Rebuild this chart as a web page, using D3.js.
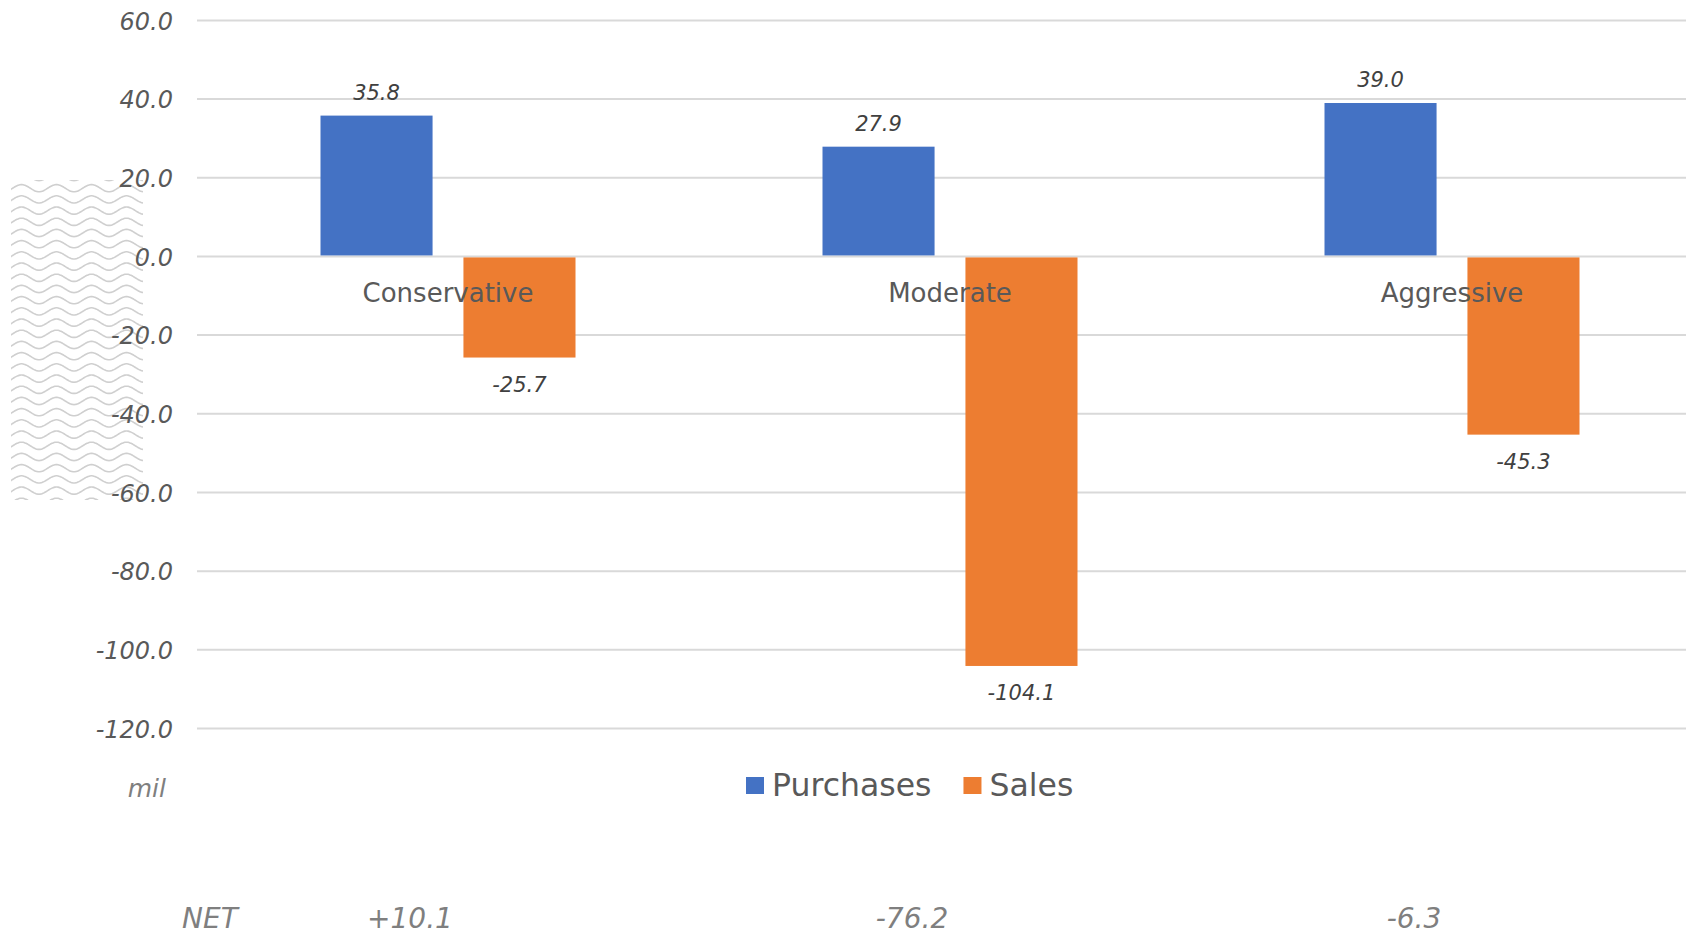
<!DOCTYPE html>
<html>
<head>
<meta charset="utf-8">
<script src="https://cdn.jsdelivr.net/npm/d3@7"></script>
<style>
  html, body { margin: 0; padding: 0; background: #fff; }
  svg { display: block; }
</style>
</head>
<body>
<svg id="chart" width="1686" height="935"></svg>
<script>
const categories = ["Conservative", "Moderate", "Aggressive"];
const seriesNames = ["Purchases", "Sales"];
const purchases = [35.8, 27.9, 39.0];
const sales = [-25.7, -104.1, -45.3];
const netLabels = ["+10.1", "-76.2", "-6.3"];
const yTicks = [60, 40, 20, 0, -20, -40, -60, -80, -100, -120];
const colors = ["#4472C4", "#ED7D31"];

const svg = d3.select("#chart");
const W = 1686, H = 935;
const plotLeft = 197, plotRight = 1703;
const FONT = "'DejaVu Sans', Verdana, sans-serif";

const y = d3.scaleLinear().domain([-120, 60]).range([728.5, 20.4]);
const x0 = d3.scaleBand().domain(categories).range([plotLeft, plotRight]).paddingInner(0).paddingOuter(0);
const x1 = d3.scaleBand().domain(seriesNames).range([123.5, 378.5]).paddingInner(31 / 143.5).paddingOuter(0);

// decorative wave pattern on the left
const defs = svg.append("defs");
defs.append("clipPath").attr("id", "waveClip")
  .append("rect").attr("x", 11).attr("y", 180).attr("width", 132).attr("height", 320);
const waveG = svg.append("g").attr("clip-path", "url(#waveClip)");
const waveLine = d3.line().curve(d3.curveMonotoneX);
const period = 35, amp = 3.6;
for (let r = 0; r < 31; r++) {
  const base = 177 + r * 11.2;
  const pts = d3.range(0, 170, 1).map(px => [px + 4, base + amp * Math.cos((px / period) * 2 * Math.PI)]);
  waveG.append("path").attr("d", waveLine(pts))
    .attr("fill", "none").attr("stroke", "#cfcfcf").attr("stroke-width", 1.6);
}

// y axis labels
const yAxis = d3.axisLeft(y).tickValues(yTicks).tickSize(0).tickPadding(0).tickFormat(d3.format(".1f"));
const gAxis = svg.append("g").attr("transform", `translate(${plotLeft},0)`).call(yAxis);
gAxis.select(".domain").remove();
gAxis.selectAll(".tick line").remove();
gAxis.selectAll(".tick text")
  .attr("x", -24).attr("dy", "0.36em")
  .attr("font-family", FONT).attr("font-style", "italic").attr("font-size", 24)
  .attr("fill", "#595959").text(d => d3.format(".1f")(d).replace("−", "-"));

// gridlines
svg.append("g").selectAll("line").data(yTicks).join("line")
  .attr("x1", plotLeft).attr("x2", W)
  .attr("y1", d => y(d)).attr("y2", d => y(d))
  .attr("stroke", "#D9D9D9").attr("stroke-width", 2);

// bars
const rows = categories.map((c, i) => ({ cat: c, values: [
  { series: "Purchases", value: purchases[i], idx: 0 },
  { series: "Sales", value: sales[i], idx: 1 }
]}));

const groups = svg.append("g").selectAll("g").data(rows).join("g")
  .attr("transform", d => `translate(${x0(d.cat)},0)`);

groups.selectAll("rect").data(d => d.values).join("rect")
  .attr("x", d => x1(d.series))
  .attr("width", x1.bandwidth())
  .attr("y", d => d.value >= 0 ? y(d.value) : y(0) + 1)
  .attr("height", d => d.value >= 0 ? y(0) - 1 - y(d.value) : y(d.value) - y(0) - 1)
  .attr("fill", d => colors[d.idx]);

// data labels
groups.selectAll("text.val").data(d => d.values).join("text")
  .attr("class", "val")
  .attr("x", d => x1(d.series) + x1.bandwidth() / 2)
  .attr("y", d => d.value >= 0 ? y(d.value) - 16 : y(d.value) + 34)
  .attr("text-anchor", "middle")
  .attr("font-family", FONT).attr("font-style", "italic").attr("font-size", 21)
  .attr("fill", "#404040")
  .text(d => d3.format(".1f")(d.value).replace("−", "-"));

// category labels
svg.append("g").selectAll("text").data(categories).join("text")
  .attr("x", d => x0(d) + x0.bandwidth() / 2)
  .attr("y", 302)
  .attr("text-anchor", "middle")
  .attr("font-family", FONT).attr("font-size", 26)
  .attr("fill", "#595959")
  .text(d => d);

// unit label
svg.append("text").attr("x", 166).attr("y", 797).attr("text-anchor", "end")
  .attr("font-family", FONT).attr("font-style", "italic").attr("font-size", 25)
  .attr("fill", "#7f7f7f").text("mil");

// legend
const legend = svg.append("g").attr("transform", "translate(746,0)");
let lx = 0;
seriesNames.forEach((s, i) => {
  legend.append("rect").attr("x", lx).attr("y", 777).attr("width", 18).attr("height", 17).attr("fill", colors[i]);
  const t = legend.append("text").attr("x", lx + 26).attr("y", 796)
    .attr("font-family", FONT).attr("font-size", 31.5).attr("fill", "#595959").text(s);
  lx += 26 + t.node().getComputedTextLength() + 32;
});

// NET row
svg.append("text").attr("x", 182).attr("y", 928)
  .attr("font-family", FONT).attr("font-style", "italic").attr("font-size", 28)
  .attr("fill", "#7f7f7f").text("NET");
svg.append("g").selectAll("text").data(categories).join("text")
  .attr("x", d => x0(d) + x0.bandwidth() / 2 - 38)
  .attr("y", 928)
  .attr("text-anchor", "middle")
  .attr("font-family", FONT).attr("font-style", "italic").attr("font-size", 28)
  .attr("fill", "#7f7f7f")
  .text((d, i) => netLabels[i]);
</script>
</body>
</html>
